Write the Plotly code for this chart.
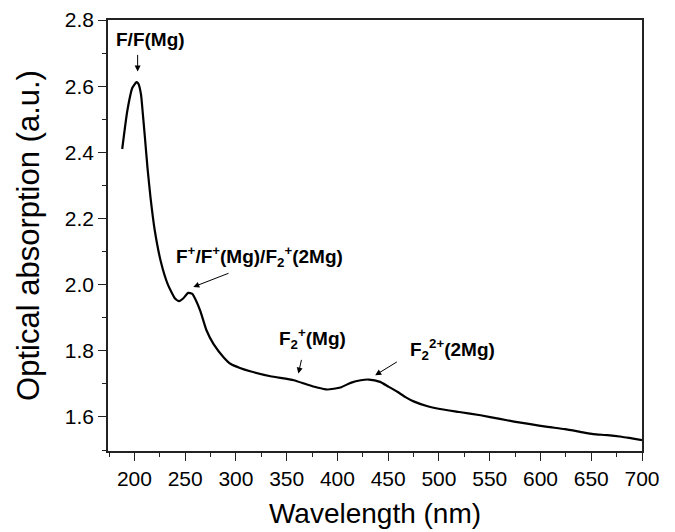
import plotly.graph_objects as go

# Spectrum data
wavelength = [188, 193, 198, 202, 204, 206.5, 208.5, 210.5, 213, 216, 220, 226, 233, 240,
              244, 248, 253, 257, 261, 265, 271, 278, 288, 295, 304, 314, 334, 357, 370,
              380, 390, 403, 413, 423, 431, 442, 450, 459, 467, 475, 488, 501, 520, 541,
              560, 574, 590, 607, 624, 639, 652, 666, 680, 690, 700]
absorption = [2.41, 2.525, 2.595, 2.612, 2.607, 2.575, 2.51, 2.44, 2.35, 2.26, 2.165, 2.07,
              2.00, 1.958, 1.950, 1.958, 1.975, 1.972, 1.950, 1.920, 1.862, 1.820, 1.780,
              1.760, 1.748, 1.738, 1.723, 1.711, 1.698, 1.689, 1.683, 1.689, 1.703, 1.711,
              1.713, 1.706, 1.692, 1.676, 1.660, 1.647, 1.633, 1.624, 1.615, 1.605, 1.594,
              1.586, 1.578, 1.570, 1.563, 1.555, 1.548, 1.545, 1.540, 1.535, 1.530]

# Peak labels
label_texts = [
    "<b>F/F(Mg)</b>",
    "<b>F<sup>+</sup>/F<sup>+</sup>(Mg)/F<sub>2</sub><sup>+</sup>(2Mg)</b>",
    "<b>F<sub>2</sub><sup>+</sup>(Mg)</b>",
    "<b>F<sub>2</sub><sup>2+</sup>(2Mg)</b>",
]
label_x = [215.8, 322.8, 375.5, 513.0]
label_y = [2.742, 2.085, 1.838, 1.803]

# Arrows: head and tail
arrow_head_x = [203.2, 258.0, 361.5, 437.2]
arrow_head_y = [2.644, 1.993, 1.731, 1.726]
arrow_tail_x = [203.2, 294.2, 364.9, 460.0]
arrow_tail_y = [2.699, 2.036, 1.777, 1.769]

FONT = "Arial, 'Liberation Sans', sans-serif"

fig = go.Figure()
fig.add_trace(go.Scatter(
    x=wavelength, y=absorption, mode="lines",
    line=dict(color="black", width=2.2, shape="spline", smoothing=0.5),
    showlegend=False, hoverinfo="skip",
))

annotations = []
for t, x, y in zip(label_texts, label_x, label_y):
    annotations.append(dict(x=x, y=y, xref="x", yref="y", text=t, showarrow=False,
                            xanchor="center", yanchor="middle",
                            font=dict(family=FONT, size=19, color="black")))
for hx, hy, tx, ty in zip(arrow_head_x, arrow_head_y, arrow_tail_x, arrow_tail_y):
    annotations.append(dict(x=hx, y=hy, ax=tx, ay=ty, xref="x", yref="y",
                            axref="x", ayref="y", text="", showarrow=True,
                            arrowhead=2, arrowsize=1.2, arrowwidth=1,
                            arrowcolor="black", standoff=0, startstandoff=0))

fig.update_layout(
    width=675, height=532,
    margin=dict(l=108, r=33, t=20, b=81),
    paper_bgcolor="white", plot_bgcolor="white",
    font=dict(family=FONT, color="black"),
    annotations=annotations,
    xaxis=dict(
        range=[174, 700], tick0=200, dtick=50, automargin=False,
        showline=True, mirror=True, linecolor="#222", linewidth=1.5,
        ticks="outside", ticklen=8, tickwidth=1.3, tickcolor="#222",
        minor=dict(ticks="outside", ticklen=4, tickwidth=1.2, tickcolor="#222", dtick=25, tick0=200),
        showgrid=False, zeroline=False,
        tickfont=dict(family=FONT, size=21, color="black"),
        title=dict(text="Wavelength (nm)", font=dict(family=FONT, size=28, color="black"), standoff=14),
    ),
    yaxis=dict(
        range=[1.497, 2.8], tick0=1.6, dtick=0.2, tickformat=".1f", automargin=False,
        showline=True, mirror=True, linecolor="#222", linewidth=1.5,
        ticks="outside", ticklen=8, tickwidth=1.3, tickcolor="#222",
        minor=dict(ticks="outside", ticklen=4, tickwidth=1.2, tickcolor="#222", dtick=0.1, tick0=1.6),
        showgrid=False, zeroline=False,
        tickfont=dict(family=FONT, size=21, color="black"),
        title=dict(text="Optical absorption (a.u.)", font=dict(family=FONT, size=31, color="black"), standoff=16),
    ),
)

fig.write_html("out.html", config={"displayModeBar": False},
               post_script="document.body.style.margin='0';document.body.style.padding='0';")
